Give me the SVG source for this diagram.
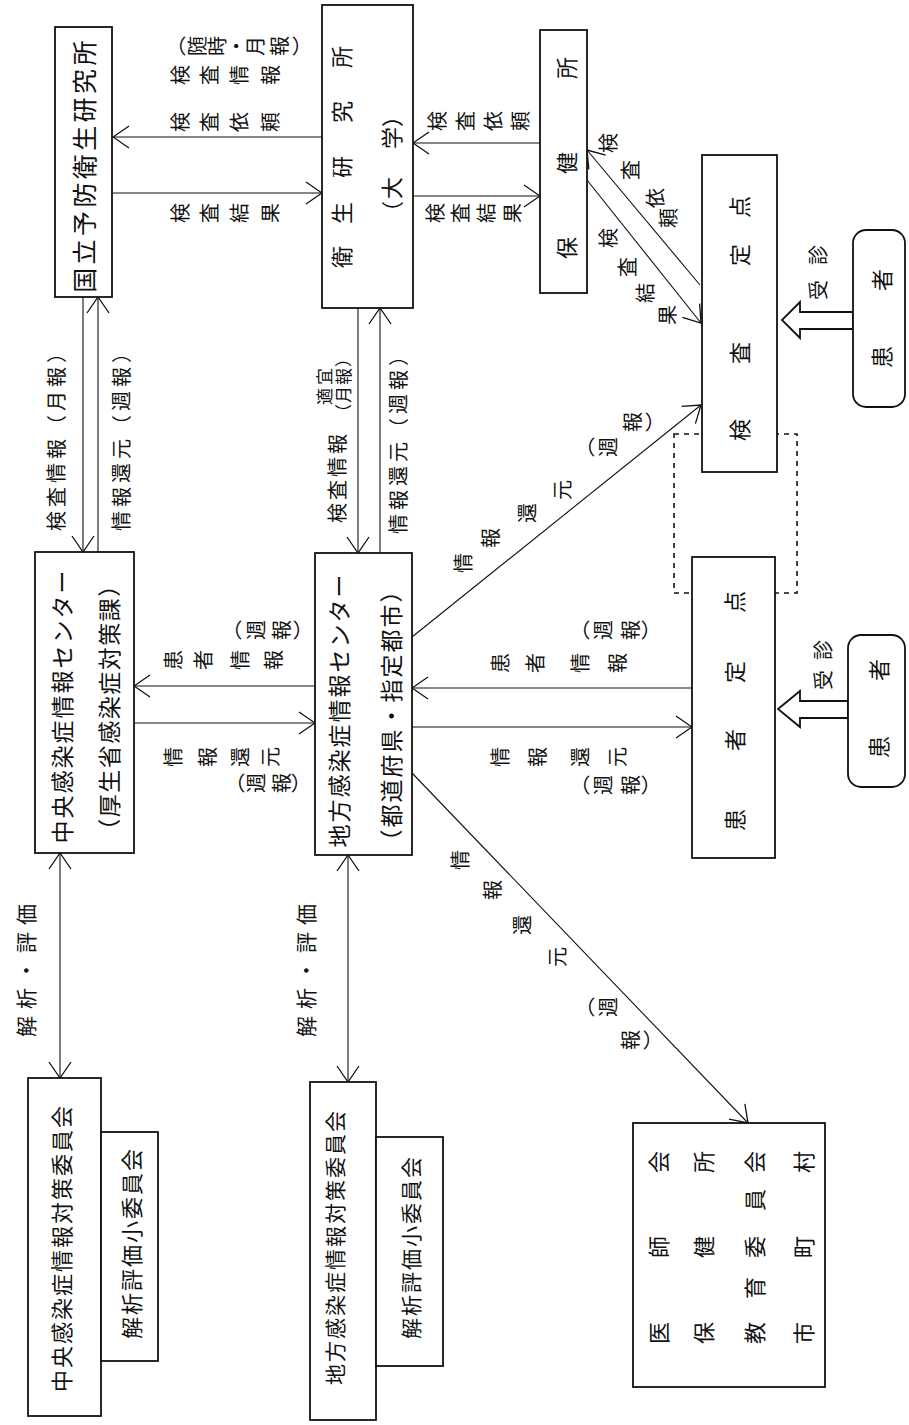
<svg xmlns="http://www.w3.org/2000/svg" width="909" height="1425" viewBox="0 0 909 1425">
<style>
.box{fill:#fff;stroke:#111;stroke-width:1.8}
.ln{stroke:#111;stroke-width:1.1;fill:none}
.dash{fill:none;stroke:#111;stroke-width:1.6;stroke-dasharray:5,5}
.hol{fill:#fff;stroke:#111;stroke-width:1.8;stroke-linejoin:miter}
.t{font-family:"Noto Sans CJK JP",sans-serif;fill:#111;text-anchor:middle;dominant-baseline:central}
.b{font-size:23px}
.l{font-size:20px}
.v{writing-mode:vertical-rl}
</style>
<defs>
<marker id="ah" viewBox="0 0 18 24" refX="17" refY="12" markerWidth="18" markerHeight="24" orient="auto" markerUnits="userSpaceOnUse"><path d="M1,1 L17,12 L1,23" fill="none" stroke="#111" stroke-width="1.3"/></marker>
<marker id="ah2" viewBox="0 0 18 24" refX="17" refY="12" markerWidth="18" markerHeight="24" orient="auto-start-reverse" markerUnits="userSpaceOnUse"><path d="M1,1 L17,12 L1,23" fill="none" stroke="#111" stroke-width="1.3"/></marker>
</defs>
<rect width="909" height="1425" fill="#fff"/>

<g id="connectors">
<rect class="dash" x="674" y="434" width="123" height="159"/>
<line class="ln" x1="322" y1="137" x2="113" y2="137" marker-end="url(#ah)"/>
<line class="ln" x1="113" y1="193" x2="322" y2="193" marker-end="url(#ah)"/>
<line class="ln" x1="540" y1="143" x2="413" y2="143" marker-end="url(#ah)"/>
<line class="ln" x1="413" y1="196" x2="540" y2="196" marker-end="url(#ah)"/>
<line class="ln" x1="700" y1="285" x2="587" y2="150" marker-end="url(#ah)"/>
<line class="ln" x1="587" y1="180" x2="701" y2="323" marker-end="url(#ah)"/>
<line class="ln" x1="83" y1="297" x2="83" y2="552" marker-end="url(#ah)"/>
<line class="ln" x1="98" y1="552" x2="98" y2="297" marker-end="url(#ah)"/>
<line class="ln" x1="358" y1="308" x2="358" y2="553" marker-end="url(#ah)"/>
<line class="ln" x1="380" y1="553" x2="380" y2="308" marker-end="url(#ah)"/>
<line class="ln" x1="315" y1="686" x2="134" y2="686" marker-end="url(#ah)"/>
<line class="ln" x1="134" y1="723" x2="315" y2="723" marker-end="url(#ah)"/>
<line class="ln" x1="692" y1="688" x2="412" y2="688" marker-end="url(#ah)"/>
<line class="ln" x1="412" y1="727" x2="692" y2="727" marker-end="url(#ah)"/>
<line class="ln" x1="412" y1="637" x2="701" y2="405" marker-end="url(#ah)"/>
<line class="ln" x1="412" y1="773" x2="748" y2="1123" marker-end="url(#ah)"/>
<line class="ln" x1="60" y1="853" x2="60" y2="1078" marker-start="url(#ah2)" marker-end="url(#ah2)"/>
<line class="ln" x1="348" y1="855" x2="348" y2="1082" marker-start="url(#ah2)" marker-end="url(#ah2)"/>
<polygon class="hol" points="853,312 800,312 800,302 782,320 800,338 800,329 853,329"/>
<polygon class="hol" points="848,701 800,701 800,691 778,709 800,727 800,718 848,718"/>

<text class="t l v" transform="rotate(-90)" x="-46" y="176 197 217 236 255 279 302" font-size="19">（随時・月報）</text>
<text class="t l v" transform="rotate(-90)" x="-75" y="180 209 239 270">検査情報</text>
<text class="t l v" transform="rotate(-90)" x="-122" y="180 209 239 270">検査依頼</text>
<text class="t l v" transform="rotate(-90)" x="-213" y="180 209 239 270">検査結果</text>
<text class="t l v" transform="rotate(-90)" x="-121" y="437 465 493 520">検査依頼</text>
<text class="t l v" transform="rotate(-90)" x="-213" y="435 460 486 512">検査結果</text>
<text class="t l v" transform="rotate(-90)" x="-143 -170 -198 -218" y="608 630 655 668">検査依頼</text>
<text class="t l v" transform="rotate(-90)" x="-238 -267 -293 -315" y="608 627 645 667">検査結果</text>
<text class="t l" transform="rotate(-90)" x="-435" y="55" letter-spacing="4">検査情報（月報）</text>
<text class="t l" transform="rotate(-90)" x="-435" y="120" letter-spacing="4">情報還元（週報）</text>
<text class="t l" transform="rotate(-90)" x="-477" y="336" letter-spacing="3">検査情報</text>
<text class="t" transform="rotate(-90)" x="-385" y="323" font-size="17" letter-spacing="3">適宜</text>
<text class="t" transform="rotate(-90)" x="-385" y="342" font-size="17" letter-spacing="1">（月報）</text>
<text class="t l" transform="rotate(-90)" x="-438" y="397" letter-spacing="4">情報還元（週報）</text>
<text class="t l v" transform="rotate(-90)" x="-630" y="232 256 281 303">（週報）</text>
<text class="t l v" transform="rotate(-90)" x="-660" y="173 203 240 273">患者情報</text>
<text class="t l v" transform="rotate(-90)" x="-757" y="173 207 240 270">情報還元</text>
<text class="t l v" transform="rotate(-90)" x="-783" y="235 256 281 301">（週報）</text>
<text class="t l v" transform="rotate(-90)" x="-630" y="580 603 630 651">（週報）</text>
<text class="t l v" transform="rotate(-90)" x="-663" y="500 535 580 617">患者情報</text>
<text class="t l v" transform="rotate(-90)" x="-757" y="500 537 580 617">情報還元</text>
<text class="t l v" transform="rotate(-90)" x="-785" y="580 603 630 651">（週報）</text>
<text class="t l v" transform="rotate(-90)" x="-563 -538 -513 -490 -447 -447 -422 -422" y="463 490 527 562 585 608 632 655">情報還元（週報）</text>
<text class="t l v" transform="rotate(-90)" x="-860 -890 -925 -957 -1007 -1007 -1040 -1040" y="460 492 522 557 585 608 630 653">情報還元（週報）</text>
<text class="t" transform="rotate(-90)" x="-967" y="25" font-size="21" letter-spacing="7">解析・評価</text>
<text class="t" transform="rotate(-90)" x="-967" y="305" font-size="21" letter-spacing="7">解析・評価</text>
<text class="t l" transform="rotate(-90)" x="-290 -255" y="817">受診</text>
<text class="t l" transform="rotate(-90)" x="-680 -650" y="822">受診</text>
</g>

<g id="n_nih">
<rect class="box" x="55" y="27" width="57" height="270"/>
<text class="t" transform="rotate(-90)" x="-165" y="83" font-size="25" letter-spacing="3.4">国立予防衛生研究所</text>
</g>
<g id="n_eiken">
<rect class="box" x="322" y="5" width="91" height="303"/>
<text class="t" transform="rotate(-90)" x="-257 -213 -167 -112 -57" y="340" font-size="22">衛生研究所</text>
<text class="t" transform="rotate(-90)" x="-212 -188 -138 -116" y="390" font-size="22">（大学）</text>
</g>
<g id="n_hokenjo">
<rect class="box" x="540" y="30" width="47" height="263"/>
<text class="t" transform="rotate(-90)" x="-248 -163 -68" y="565" font-size="22">保健所</text>
</g>
<g id="n_kensa_teiten">
<rect class="box" x="702" y="155" width="75" height="317"/>
<text class="t" transform="rotate(-90)" x="-430 -353 -255 -207" y="738" font-size="22">検査定点</text>
</g>
<g id="n_patient_1">
<rect class="box" x="853" y="230" width="52" height="177" rx="13"/>
<text class="t" transform="rotate(-90)" x="-357 -280" y="880" font-size="22">患者</text>
</g>
<g id="n_chuo_center">
<rect class="box" x="35" y="552" width="99" height="301"/>
<text class="t" transform="rotate(-90)" x="-706" y="61" font-size="23" letter-spacing="2">中央感染症情報センター</text>
<text class="t" transform="rotate(-90)" x="-707" y="108" font-size="23" letter-spacing="1.5">（厚生省感染症対策課）</text>
</g>
<g id="n_chiho_center">
<rect class="box" x="315" y="553" width="97" height="302"/>
<text class="t" transform="rotate(-90)" x="-710" y="338" font-size="23" letter-spacing="2">地方感染症情報センター</text>
<text class="t" transform="rotate(-90)" x="-715" y="390" font-size="23" letter-spacing="2">（都道府県・指定都市）</text>
</g>
<g id="n_kanja_teiten">
<rect class="box" x="692" y="557" width="83" height="301"/>
<text class="t" transform="rotate(-90)" x="-820 -740 -672 -602" y="733" font-size="22">患者定点</text>
</g>
<g id="n_patient_2">
<rect class="box" x="848" y="635" width="57" height="152" rx="13"/>
<text class="t" transform="rotate(-90)" x="-747 -670" y="877" font-size="22">患者</text>
</g>
<g id="n_chuo_iinkai">
<rect class="box" x="28" y="1078" width="73" height="338"/>
<text class="t" transform="rotate(-90)" x="-1248" y="60" font-size="22" letter-spacing="2">中央感染症情報対策委員会</text>
</g>
<g id="n_chuo_sub">
<rect class="box" x="101" y="1132" width="57" height="229"/>
<text class="t" transform="rotate(-90)" x="-1243" y="130" font-size="22" letter-spacing="2">解析評価小委員会</text>
</g>
<g id="n_chiho_iinkai">
<rect class="box" x="310" y="1082" width="66" height="338"/>
<text class="t" transform="rotate(-90)" x="-1247" y="334" font-size="21" letter-spacing="2">地方感染症情報対策委員会</text>
</g>
<g id="n_chiho_sub">
<rect class="box" x="376" y="1137" width="67" height="229"/>
<text class="t" transform="rotate(-90)" x="-1247" y="410" font-size="21" letter-spacing="2">解析評価小委員会</text>
</g>
<g id="n_ishikai">
<rect class="box" x="633" y="1123" width="192" height="264"/>
<text class="t" transform="rotate(-90)" x="-1333 -1247 -1162" y="657" font-size="22">医師会</text>
<text class="t" transform="rotate(-90)" x="-1333 -1247 -1162" y="702" font-size="22">保健所</text>
<text class="t" transform="rotate(-90)" x="-1333 -1288 -1247 -1200 -1162" y="753" font-size="22">教育委員会</text>
<text class="t" transform="rotate(-90)" x="-1333 -1247 -1162" y="802" font-size="22">市町村</text>
</g>
</svg>
